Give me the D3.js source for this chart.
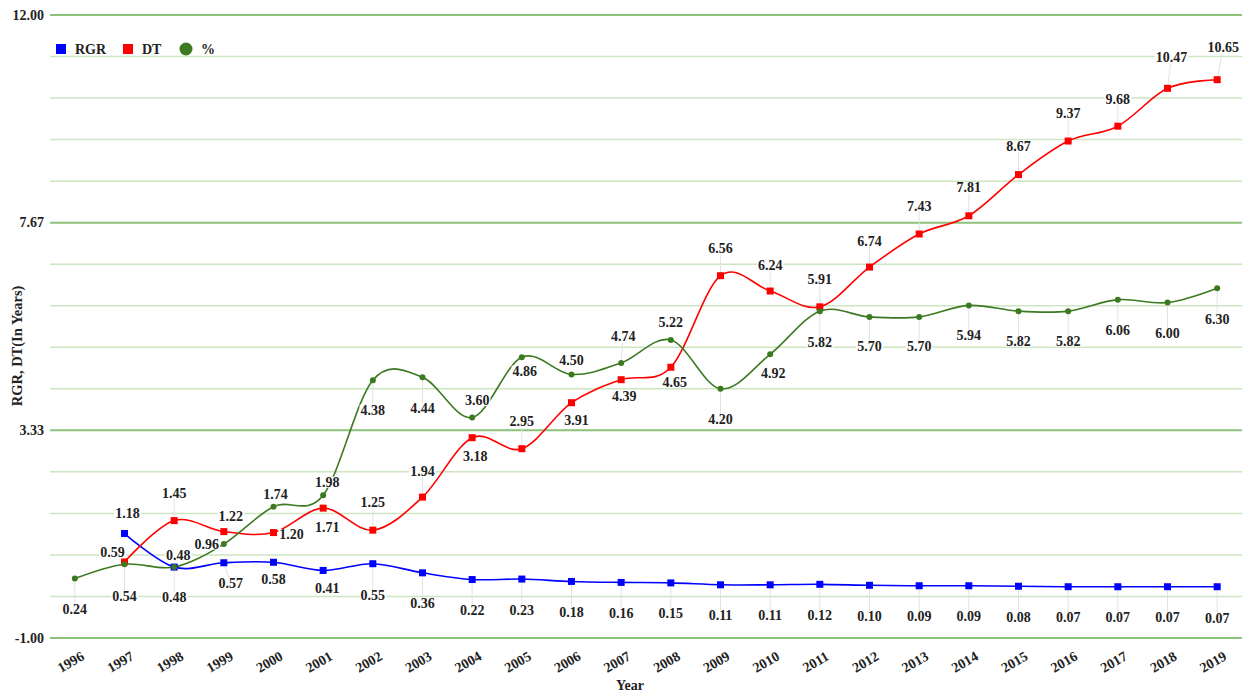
<!DOCTYPE html>
<html><head><meta charset="utf-8">
<script src="https://cdn.jsdelivr.net/npm/d3@7"></script>
<style>
html,body{margin:0;padding:0;background:#fff;}
svg{display:block;font-family:"Liberation Serif","Times New Roman",serif;font-weight:bold;}
</style></head>
<body>
<svg id="chart" width="1245" height="692"></svg>
<script>
// ---------- data ----------
const years = ["1996","1997","1998","1999","2000","2001","2002","2003","2004","2005","2006","2007","2008","2009","2010","2011","2012","2013","2014","2015","2016","2017","2018","2019"];
const rgr = [null,1.18,0.48,0.57,0.58,0.41,0.55,0.36,0.22,0.23,0.18,0.16,0.15,0.11,0.11,0.12,0.10,0.09,0.09,0.08,0.07,0.07,0.07,0.07];
const dt  = [null,0.59,1.45,1.22,1.20,1.71,1.25,1.94,3.18,2.95,3.91,4.39,4.65,6.56,6.24,5.91,6.74,7.43,7.81,8.67,9.37,9.68,10.47,10.65];
const pct = [0.24,0.54,0.48,0.96,1.74,1.98,4.38,4.44,3.60,4.86,4.50,4.74,5.22,4.20,4.92,5.82,5.70,5.70,5.94,5.82,5.82,6.06,6.00,6.30];
const yTickLabels = ["-1.00","3.33","7.67","12.00"];
const seriesNames = ["RGR","DT","%"];

// ---------- label placement (offsets in px from the point) ----------
const rgrLabelOff = [null,[3,-20],[0,30],[7,21],[0,17],[4,18],[0,32],[0,31],[0,31],[0,31],[0,31],[0,31],[0,31],[0,31],[0,31],[0,31],[0,31],[0,31],[0,31],[0,31],[0,31],[0,31],[0,31],[0,32]];
const dtLabelOff  = [null,[-12,-9],[0,-27],[7,-15],[18,2],[4,19],[0,-28],[0,-26],[3,19],[0,-27],[5,18],[3,17],[4,15],[0,-27],[0,-26],[0,-27],[0,-26],[0,-28],[0,-28],[0,-28],[0,-28],[0,-27],[4,-31],[6,-32]];
const pctLabelOff = [[0,31],[0,32],[4,-12],[-17,0],[2,-12],[4,-13],[0,30],[0,31],[5,-17],[3,14],[0,-14],[2,-26],[0,-17],[0,31],[3,19],[0,31],[0,30],[0,30],[0,30],[0,30],[0,30],[0,31],[0,31],[0,31]];

// ---------- layout ----------
const FONT = "Liberation Serif";
const FS = 14;
const svg = d3.select("#chart");
const L = 50, R = 1242, T = 15, B = 638;
const x = d3.scaleBand().domain(years).range([L, R]);
const cx = d => x(d) + x.bandwidth() / 2;
const y = d3.scaleLinear().domain([-1, 12]).range([B, T]);

const allTicks = d3.range(16).map(k => -1 + k * 13 / 15);
const majorTicks = yTickLabels.map(Number);

// gridlines
const grid = svg.append("g");
grid.selectAll("line").data(allTicks).join("line")
  .attr("x1", L).attr("x2", R)
  .attr("y1", d => y(d)).attr("y2", d => y(d))
  .attr("stroke", (d, i) => i % 5 === 0 ? "#8cc27a" : "#cde5c1")
  .attr("stroke-width", (d, i) => i % 5 === 0 ? 2 : 1.5);

// y axis labels
const yAxis = d3.axisLeft(y).tickValues(majorTicks).tickSize(0).tickPadding(6)
  .tickFormat((d, i) => yTickLabels[i]);
const gy = svg.append("g").attr("transform", `translate(${L},0)`).call(yAxis);
gy.select(".domain").remove();
gy.selectAll("text").attr("font-size", FS).attr("fill", "#222")
  .attr("font-family", FONT).attr("font-weight", "bold");

// x axis labels
const xAxis = d3.axisBottom(x).tickSize(0).tickPadding(0);
const gx = svg.append("g").attr("transform", `translate(0,${B})`).call(xAxis);
gx.select(".domain").remove();
gx.selectAll(".tick text")
  .attr("font-size", FS).attr("fill", "#222")
  .attr("font-family", FONT).attr("font-weight", "bold")
  .attr("text-anchor", "middle").attr("dy", null).attr("y", 0)
  .attr("dominant-baseline", "central")
  .attr("transform", "translate(-4,24) rotate(-30)");

// axis titles
svg.append("text").attr("x", 630).attr("y", 690).attr("text-anchor", "middle")
  .attr("font-family", FONT).attr("font-size", FS).attr("fill", "#222").text("Year");
svg.append("text").attr("transform", "translate(22,346) rotate(-90)").attr("text-anchor", "middle")
  .attr("font-family", FONT).attr("font-size", 14.5).attr("fill", "#222").text("RGR, DT(In Years)");

// series
const series = [
  {name: seriesNames[0], vals: rgr, color: "#0000ff", marker: "square", off: rgrLabelOff},
  {name: seriesNames[1], vals: dt,  color: "#ff0000", marker: "square", off: dtLabelOff},
  {name: seriesNames[2], vals: pct, color: "#3c7a22", marker: "circle", off: pctLabelOff}
];
series.forEach(s => {
  s.pts = years.map((yr, i) => ({yr, v: s.vals[i], off: s.off[i]})).filter(p => p.v !== null);
});

const line = d3.line().x(d => cx(d.yr)).y(d => y(d.v)).curve(d3.curveCardinal.tension(0));

// leader lines
const leaders = svg.append("g");
series.forEach(s => {
  leaders.selectAll(null).data(s.pts.filter(p => Math.abs(p.off[1]) > 20)).join("line")
    .attr("x1", p => cx(p.yr)).attr("y1", p => y(p.v))
    .attr("x2", p => cx(p.yr) + p.off[0]).attr("y2", p => y(p.v) + p.off[1])
    .attr("stroke", "#e2e2e2").attr("stroke-width", 1);
});

// lines
series.forEach(s => {
  svg.append("path").datum(s.pts).attr("d", line)
    .attr("fill", "none").attr("stroke", s.color).attr("stroke-width", 1.6);
});

// markers
series.forEach(s => {
  const g = svg.append("g");
  if (s.marker === "square") {
    g.selectAll("rect").data(s.pts).join("rect")
      .attr("x", p => cx(p.yr) - 3.5).attr("y", p => y(p.v) - 3.5)
      .attr("width", 7).attr("height", 7).attr("fill", s.color);
  } else {
    g.selectAll("circle").data(s.pts).join("circle")
      .attr("cx", p => cx(p.yr)).attr("cy", p => y(p.v)).attr("r", 3)
      .attr("fill", s.color);
  }
});

// data labels with white background
const labels = svg.append("g");
series.forEach(s => {
  s.pts.forEach(p => {
    const lx = cx(p.yr) + p.off[0], ly = y(p.v) + p.off[1];
    const g = labels.append("g").attr("transform", `translate(${lx},${ly})`);
    const t = g.append("text").attr("text-anchor", "middle").attr("dominant-baseline", "central")
      .attr("font-family", FONT).attr("font-size", FS).attr("fill", "#222").text(p.v.toFixed(2));
    const bb = t.node().getBBox();
    g.insert("rect", "text").attr("x", bb.x - 1).attr("y", bb.y + 2)
      .attr("width", bb.width + 2).attr("height", bb.height - 4).attr("fill", "#fff");
  });
});

// legend
const leg = svg.append("g");
const legX = [56, 123, 180];
series.forEach((s, i) => {
  if (s.marker === "square") {
    leg.append("rect").attr("x", legX[i]).attr("y", 44).attr("width", 10).attr("height", 10).attr("fill", s.color);
  } else {
    leg.append("circle").attr("cx", legX[i] + 6).attr("cy", 49).attr("r", 6.5).attr("fill", s.color);
  }
  leg.append("text").attr("x", legX[i] + (s.marker === "square" ? 19 : 21)).attr("y", 49)
    .attr("dominant-baseline", "central").attr("font-family", FONT).attr("font-size", FS)
    .attr("fill", "#222").text(s.name);
});
</script>
</body></html>
